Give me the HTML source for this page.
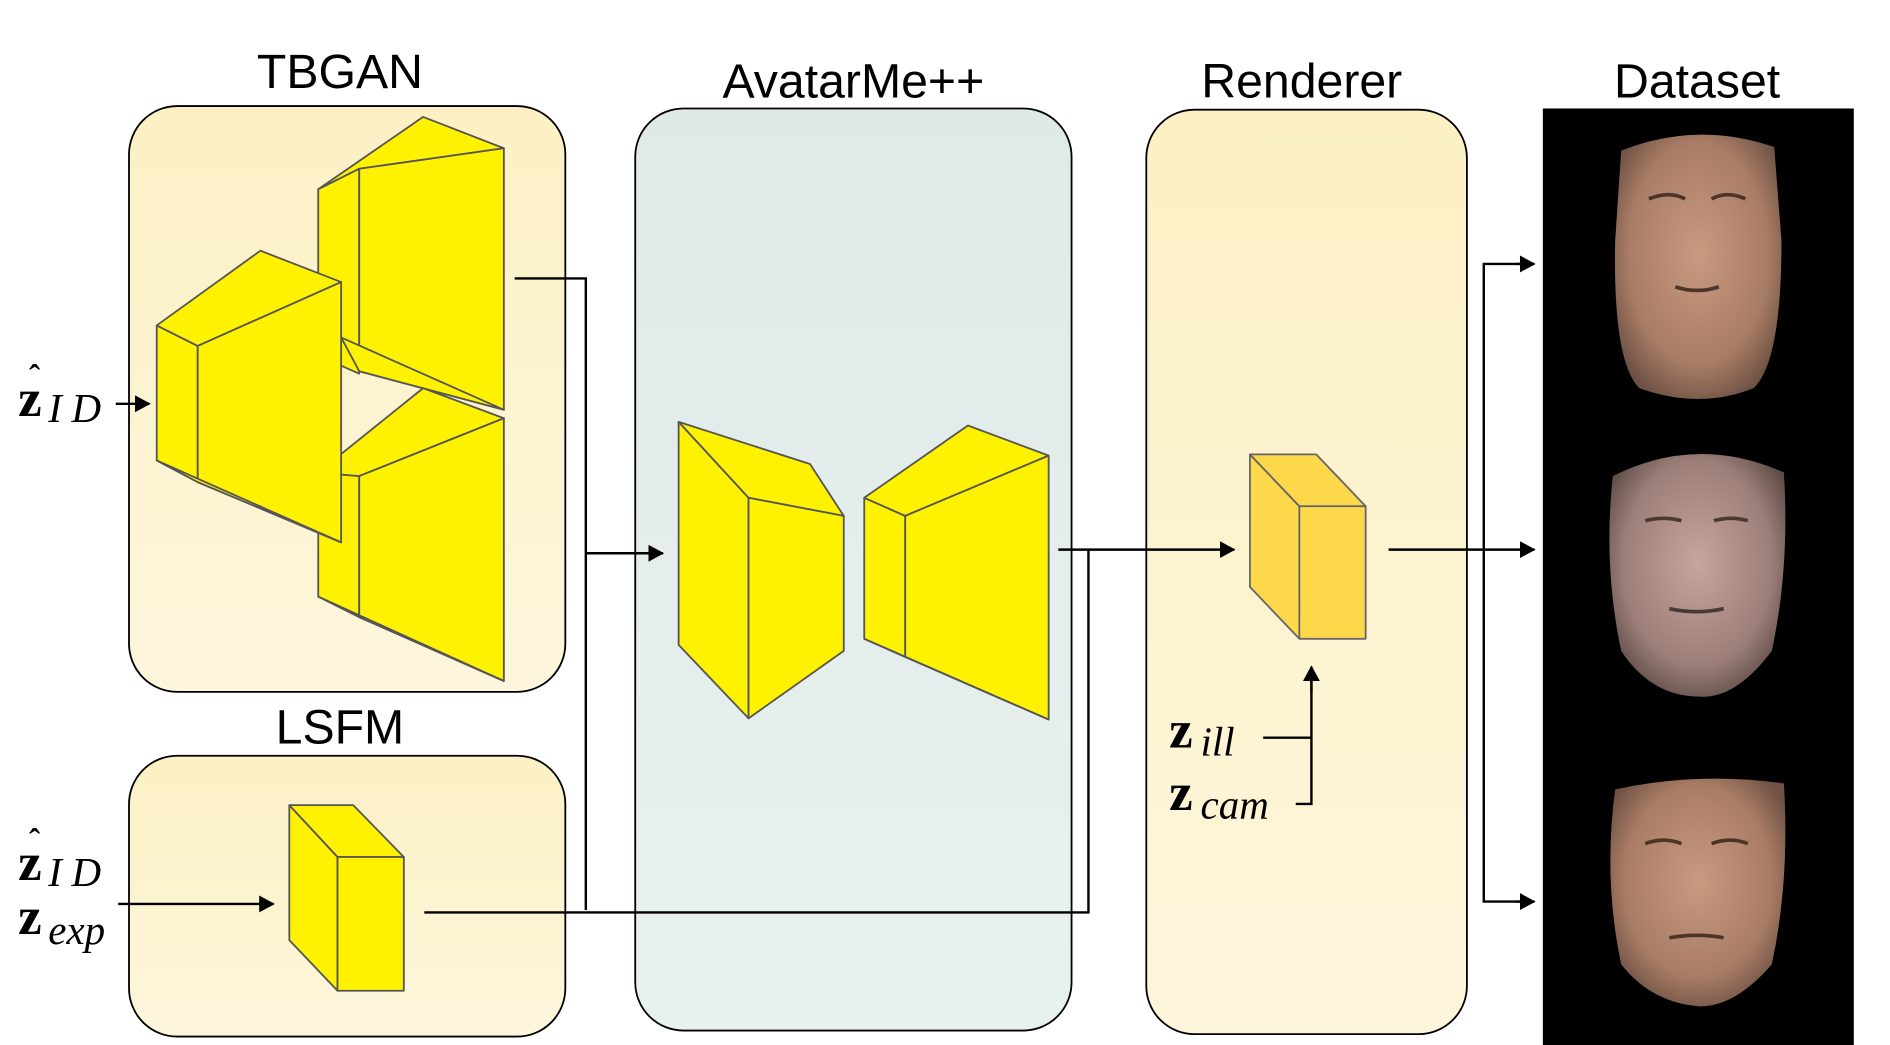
<!DOCTYPE html>
<html><head><meta charset="utf-8"><style>
html,body{margin:0;padding:0;background:#fff;}
svg{display:block;}
.t{font-family:"Liberation Sans",sans-serif;font-size:40px;text-anchor:middle;}
.m{font-family:"Liberation Serif",serif;}
.y{fill:#fff200;stroke:#555;stroke-width:1.5;stroke-linejoin:round;}
.o{fill:#fcd84a;stroke:#666;stroke-width:1.5;stroke-linejoin:round;}
.l{stroke:#000;stroke-width:2;fill:none;}
</style></head><body>
<svg width="1890" height="1045" viewBox="0 0 1568 867" xmlns="http://www.w3.org/2000/svg">
<defs>
<linearGradient id="gy" x1="0" y1="0" x2="0" y2="1"><stop offset="0" stop-color="#fcf0c4"/><stop offset="1" stop-color="#fdf6dc"/></linearGradient>
<linearGradient id="gb" x1="0" y1="0" x2="0" y2="1"><stop offset="0" stop-color="#dfeae8"/><stop offset="1" stop-color="#e9f1ef"/></linearGradient>
<radialGradient id="sk" cx="0.5" cy="0.45" r="0.6"><stop offset="0" stop-color="#c99a80"/><stop offset="0.7" stop-color="#a97c66"/><stop offset="1" stop-color="#6e5244"/></radialGradient>
<radialGradient id="sk2" cx="0.5" cy="0.45" r="0.6"><stop offset="0" stop-color="#c7a59c"/><stop offset="0.7" stop-color="#9c7f78"/><stop offset="1" stop-color="#5f4c47"/></radialGradient>
<marker id="a" markerWidth="14" markerHeight="14" refX="12" refY="7" orient="auto" markerUnits="userSpaceOnUse"><path d="M0,0 L13,7 L0,14 Z" fill="#000"/></marker>
</defs>
<rect x="107" y="88" width="362" height="486" rx="40" fill="url(#gy)" stroke="#000" stroke-width="1.5"/>
<rect x="107" y="627" width="362" height="233" rx="40" fill="url(#gy)" stroke="#000" stroke-width="1.5"/>
<rect x="527" y="90" width="362" height="765" rx="40" fill="url(#gb)" stroke="#000" stroke-width="1.5"/>
<rect x="951" y="91" width="266" height="767" rx="40" fill="url(#gy)" stroke="#000" stroke-width="1.5"/>
<rect x="1280" y="90" width="258" height="777" fill="#000"/>
<text class="t" x="282" y="73">TBGAN</text>
<text class="t" x="282" y="617">LSFM</text>
<text class="t" x="708" y="81">AvatarMe++</text>
<text class="t" x="1080" y="81">Renderer</text>
<text class="t" x="1408" y="81">Dataset</text>
<!-- TBGAN blocks -->
<polygon class="y" points="264,157 298,140 298,310 264,295"/>
<polygon class="y" points="264,157 351,97 418,123 298,140"/>
<polygon class="y" points="298,140 418,123 418,340 298,308"/>
<polygon class="y" points="283,280 418,340 298,308"/>
<polygon class="y" points="264,392 298,395 298,512 264,495"/>
<polygon class="y" points="264,392 351,322 418,347 298,395"/>
<polygon class="y" points="298,395 418,347 418,565 298,512"/>
<polygon class="y" points="264,495 418,565 298,512"/>
<polygon class="y" points="130,270 164,287 164,400 130,382"/>
<polygon class="y" points="130,270 216,208 283,234 164,287"/>
<polygon class="y" points="164,287 283,234 283,450 164,400"/>
<polygon class="y" points="130,382 283,450 164,400"/>
<!-- AvatarMe -->
<polygon class="y" points="563,350 621,413 621,596 563,535"/>
<polygon class="y" points="563,350 672,385 700,428 621,413"/>
<polygon class="y" points="621,413 700,428 700,540 621,596"/>
<polygon class="y" points="717,413 751,428 751,545 717,530"/>
<polygon class="y" points="717,413 803,353 870,378 751,428"/>
<polygon class="y" points="751,428 870,378 870,597 751,545"/>
<polygon class="y" points="717,530 870,597 751,545"/>
<!-- LSFM cube -->
<polygon class="y" points="240,668 280,711 280,822 240,780"/>
<polygon class="y" points="240,668 293,668 335,711 280,711"/>
<polygon class="y" points="280,711 335,711 335,822 280,822"/>
<!-- Renderer cube -->
<polygon class="o" points="1037,377 1078,420 1078,530 1037,487"/>
<polygon class="o" points="1037,377 1092,377 1133,420 1078,420"/>
<polygon class="o" points="1078,420 1133,420 1133,530 1078,530"/>
<!-- lines -->
<polyline class="l" points="427,231 486,231 486,755"/>
<line class="l" x1="486" y1="459" x2="550" y2="459" marker-end="url(#a)"/>
<polyline class="l" points="352,757 903,757 903,456"/>
<line class="l" x1="878" y1="456" x2="1024" y2="456" marker-end="url(#a)"/>
<line class="l" x1="96" y1="335" x2="124" y2="335" marker-end="url(#a)"/>
<line class="l" x1="98" y1="750" x2="227" y2="750" marker-end="url(#a)"/>
<line class="l" x1="1152" y1="456" x2="1273" y2="456" marker-end="url(#a)"/>
<polyline class="l" points="1271,219 1231,219 1231,748 1271,748"/>
<line class="l" x1="1258" y1="219" x2="1273" y2="219" marker-end="url(#a)"/>
<line class="l" x1="1258" y1="748" x2="1273" y2="748" marker-end="url(#a)"/>
<polyline class="l" points="1048,612 1088,612"/>
<polyline class="l" points="1075,667 1088,667 1088,558"/>
<line class="l" x1="1088" y1="575" x2="1088" y2="553" marker-end="url(#a)"/>
<!-- labels -->
<g class="m" font-size="44">
<text x="15" y="345" font-weight="bold">z</text><text x="24" y="322" font-size="28" font-weight="bold">ˆ</text><text x="40" y="350" font-style="italic" font-size="34" letter-spacing="8">ID</text>
<text x="15" y="730" font-weight="bold">z</text><text x="24" y="707" font-size="28" font-weight="bold">ˆ</text><text x="40" y="735" font-style="italic" font-size="34" letter-spacing="8">ID</text>
<text x="15" y="775" font-weight="bold">z</text><text x="40" y="783" font-style="italic" font-size="34">exp</text>
<text x="970" y="620" font-weight="bold">z</text><text x="996" y="627" font-style="italic" font-size="34">ill</text>
<text x="970" y="672" font-weight="bold">z</text><text x="996" y="679" font-style="italic" font-size="34">cam</text>
</g>
<!-- faces -->
<path d="M1345,125 Q1408,100 1472,122 L1478,200 Q1478,300 1455,322 Q1410,340 1360,322 Q1338,300 1340,200 Z" fill="url(#sk)"/>
<g stroke="#4a3528" stroke-width="3" fill="none"><path d="M1368,165 Q1385,158 1398,165"/><path d="M1420,165 Q1433,158 1448,165"/><path d="M1390,238 Q1408,244 1426,238"/></g>
<path d="M1338,395 Q1408,360 1480,392 Q1485,470 1470,540 Q1440,580 1410,578 Q1370,578 1345,540 Q1330,470 1338,395 Z" fill="url(#sk2)"/>
<g stroke="#4a3a36" stroke-width="3" fill="none"><path d="M1365,432 Q1380,428 1395,432"/><path d="M1422,432 Q1436,428 1450,432"/><path d="M1385,505 Q1408,510 1430,505"/></g>
<path d="M1340,655 Q1408,640 1480,650 Q1485,730 1470,800 Q1440,835 1410,835 Q1370,832 1345,800 Q1330,730 1340,655 Z" fill="url(#sk)"/>
<g stroke="#4a3528" stroke-width="3" fill="none"><path d="M1365,700 Q1380,694 1395,700"/><path d="M1420,700 Q1436,694 1450,700"/><path d="M1385,778 Q1408,774 1430,778"/></g>
</svg>
</body></html>
